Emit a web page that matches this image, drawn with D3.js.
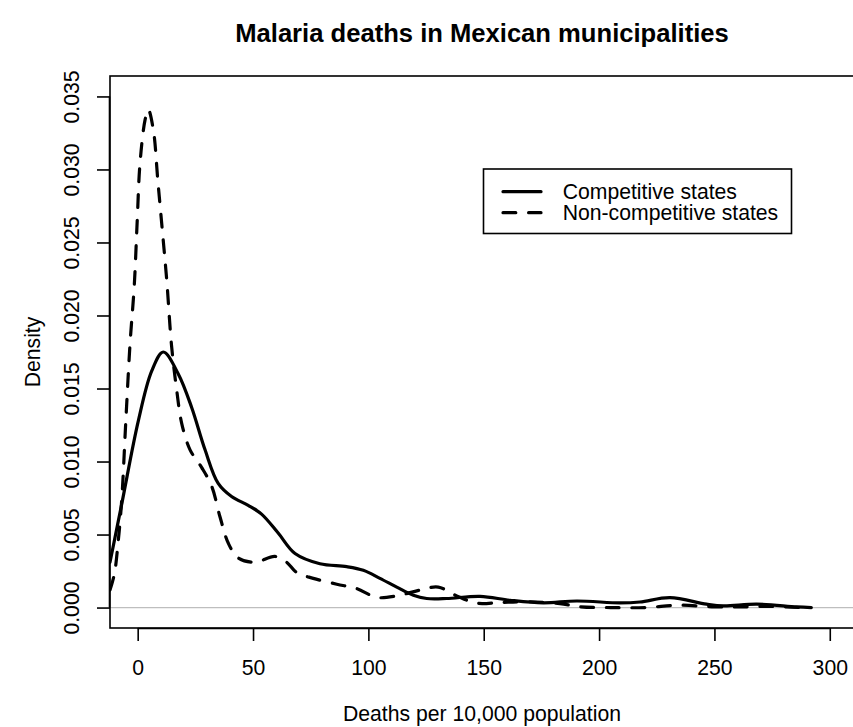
<!DOCTYPE html>
<html>
<head>
<meta charset="utf-8">
<script src="https://cdn.jsdelivr.net/npm/d3@7"></script>
<style>
  html, body { margin: 0; padding: 0; background: #fff; }
  svg { display: block; }
  text { font-family: "Liberation Sans", Arial, Helvetica, sans-serif; fill: #000; }
</style>
</head>
<body>
<svg id="chart" width="853" height="727"></svg>
<script>
// Kernel density estimates of malaria deaths per 10,000 population
const competitiveX = [-12, -6.9, 0.3, 6.1, 11.1, 17.6, 23.4, 29.2, 34.9, 40.7, 47.9, 53.7, 60.9, 68.2, 79.0, 90.6, 97.8, 105, 112.3, 119.5, 125.3, 133.9, 148.4, 161.4, 175.8, 190.3, 209, 217.7, 230.7, 246.6, 253.8, 268.3, 285.6, 292];
const competitiveY = [0.0031, 0.0071, 0.0128, 0.0162, 0.0175, 0.0160, 0.0137, 0.0108, 0.0085, 0.0076, 0.0070, 0.0064, 0.0051, 0.0037, 0.0030, 0.0028, 0.00255, 0.0020, 0.0014, 0.00084, 0.00062, 0.00062, 0.00077, 0.0005, 0.00032, 0.00045, 0.00032, 0.00038, 0.00068, 0.00023, 0.00011, 0.00023, 0.00004, 0];

const nonCompetitiveX = [-12, -10.1, -8.4, -6.9, -5.2, -3.3, -1.5, -0.2, 1.0, 3.2, 4.6, 6.8, 8.7, 10.7, 12.6, 14.7, 16.9, 19.1, 22.7, 27.7, 32.1, 35.7, 39.3, 43.6, 50.8, 59.5, 64.6, 68.9, 76.1, 86.3, 94.9, 103.6, 112.3, 122.4, 130.3, 138.3, 147, 157, 168.6, 183, 192, 205, 220, 235, 250, 263, 275, 287];
const nonCompetitiveY = [0.0012, 0.0023, 0.0046, 0.0074, 0.0126, 0.0181, 0.0220, 0.0265, 0.0304, 0.0334, 0.0341, 0.0327, 0.0293, 0.0258, 0.0224, 0.0179, 0.0149, 0.0126, 0.0108, 0.0096, 0.0083, 0.0062, 0.0044, 0.0034, 0.0031, 0.0035, 0.0031, 0.0024, 0.0020, 0.0016, 0.0013, 0.0007, 0.0008, 0.0012, 0.0014, 0.0008, 0.0003, 0.00035, 0.0004, 0.00027, 0.00005, 0.0, 0.0, 0.00016, 0.00005, 0.00005, 0.00008, 0];

const xTicks = [0, 50, 100, 150, 200, 250, 300];
const yTicks = [0.000, 0.005, 0.010, 0.015, 0.020, 0.025, 0.030, 0.035];

const seriesNames = ["Competitive states", "Non-competitive states"];
const titleText = "Malaria deaths in Mexican municipalities";
const xLabel = "Deaths per 10,000 population";
const yLabel = "Density";

const svg = d3.select("#chart");
const plot = { left: 110, top: 76, right: 854, bottom: 628 };

const x = d3.scaleLinear().domain([-12.0, 310.5]).range([plot.left, plot.right]);
const y = d3.scaleLinear().domain([-0.0014, 0.0364]).range([plot.bottom, plot.top]);

const lw = 3.2;
const dash = "12.8,12.8";

svg.append("defs").append("clipPath").attr("id", "plotclip")
  .append("rect")
  .attr("x", plot.left).attr("y", plot.top)
  .attr("width", plot.right - plot.left).attr("height", plot.bottom - plot.top);

// zero reference line
svg.append("line")
  .attr("x1", plot.left).attr("x2", plot.right)
  .attr("y1", y(0)).attr("y2", y(0))
  .attr("stroke", "#bebebe").attr("stroke-width", 1.2);

const line = d3.line().x(d => x(d[0])).y(d => y(d[1])).curve(d3.curveCatmullRom.alpha(0.5));

const g = svg.append("g").attr("clip-path", "url(#plotclip)");

g.append("path")
  .datum(d3.zip(competitiveX, competitiveY))
  .attr("d", line)
  .attr("fill", "none").attr("stroke", "#000")
  .attr("stroke-width", lw).attr("stroke-linecap", "round").attr("stroke-linejoin", "round");

g.append("path")
  .datum(d3.zip(nonCompetitiveX, nonCompetitiveY))
  .attr("d", line)
  .attr("fill", "none").attr("stroke", "#000")
  .attr("stroke-width", lw).attr("stroke-dasharray", dash)
  .attr("stroke-linecap", "round").attr("stroke-linejoin", "round");

// plot frame
svg.append("rect")
  .attr("x", plot.left).attr("y", plot.top)
  .attr("width", plot.right - plot.left).attr("height", plot.bottom - plot.top)
  .attr("fill", "none").attr("stroke", "#000").attr("stroke-width", 1.6);

// axes
const xAxis = d3.axisBottom(x).tickValues(xTicks).tickSize(13).tickPadding(19).tickFormat(d3.format("d"));
const xg = svg.append("g").attr("transform", `translate(0,${plot.bottom})`).call(xAxis);
xg.select(".domain").attr("d", `M${x(0)},0.5H${x(300)}`).attr("stroke-width", 1.6);
xg.selectAll(".tick line").attr("stroke-width", 1.6);
xg.selectAll(".tick text").attr("font-size", 21.2).attr("font-family", "Liberation Sans, Arial, sans-serif");

const yAxis = d3.axisLeft(y).tickValues(yTicks).tickSize(13).tickFormat(d3.format(".3f"));
const yg = svg.append("g").attr("transform", `translate(${plot.left},0)`).call(yAxis);
yg.select(".domain").attr("d", `M-0.5,${y(0)}V${y(0.035)}`).attr("stroke-width", 1.6);
yg.selectAll(".tick line").attr("stroke-width", 1.6);
yg.selectAll(".tick text")
  .attr("font-size", 21.2).attr("font-family", "Liberation Sans, Arial, sans-serif")
  .attr("x", null).attr("dy", null)
  .attr("text-anchor", "middle")
  .attr("transform", "translate(-31,0) rotate(-90)")
  .attr("y", 0);

// title and axis labels
svg.append("text")
  .attr("x", (plot.left + plot.right) / 2).attr("y", 42)
  .attr("text-anchor", "middle").attr("font-size", 25.6).attr("font-weight", "bold")
  .text(titleText);

svg.append("text")
  .attr("x", (plot.left + plot.right) / 2).attr("y", 721)
  .attr("text-anchor", "middle").attr("font-size", 21.2)
  .text(xLabel);

svg.append("text")
  .attr("transform", `translate(40,${(plot.top + plot.bottom) / 2}) rotate(-90)`)
  .attr("text-anchor", "middle").attr("font-size", 21.2)
  .text(yLabel);

// legend
const legend = svg.append("g");
legend.append("rect")
  .attr("x", 483.5).attr("y", 169).attr("width", 308).attr("height", 64.5)
  .attr("fill", "#fff").attr("stroke", "#000").attr("stroke-width", 1.6);
const legendRows = [
  { name: seriesNames[0], dashed: false, cy: 191.7 },
  { name: seriesNames[1], dashed: true, cy: 212.7 }
];
legendRows.forEach(r => {
  legend.append("line")
    .attr("x1", 503).attr("x2", 541).attr("y1", r.cy).attr("y2", r.cy)
    .attr("stroke", "#000").attr("stroke-width", lw).attr("stroke-linecap", "round")
    .attr("stroke-dasharray", r.dashed ? dash : null);
  legend.append("text")
    .attr("x", 562.7).attr("y", r.cy).attr("dy", "0.35em")
    .attr("font-size", 21.2)
    .text(r.name);
});
</script>
</body>
</html>
